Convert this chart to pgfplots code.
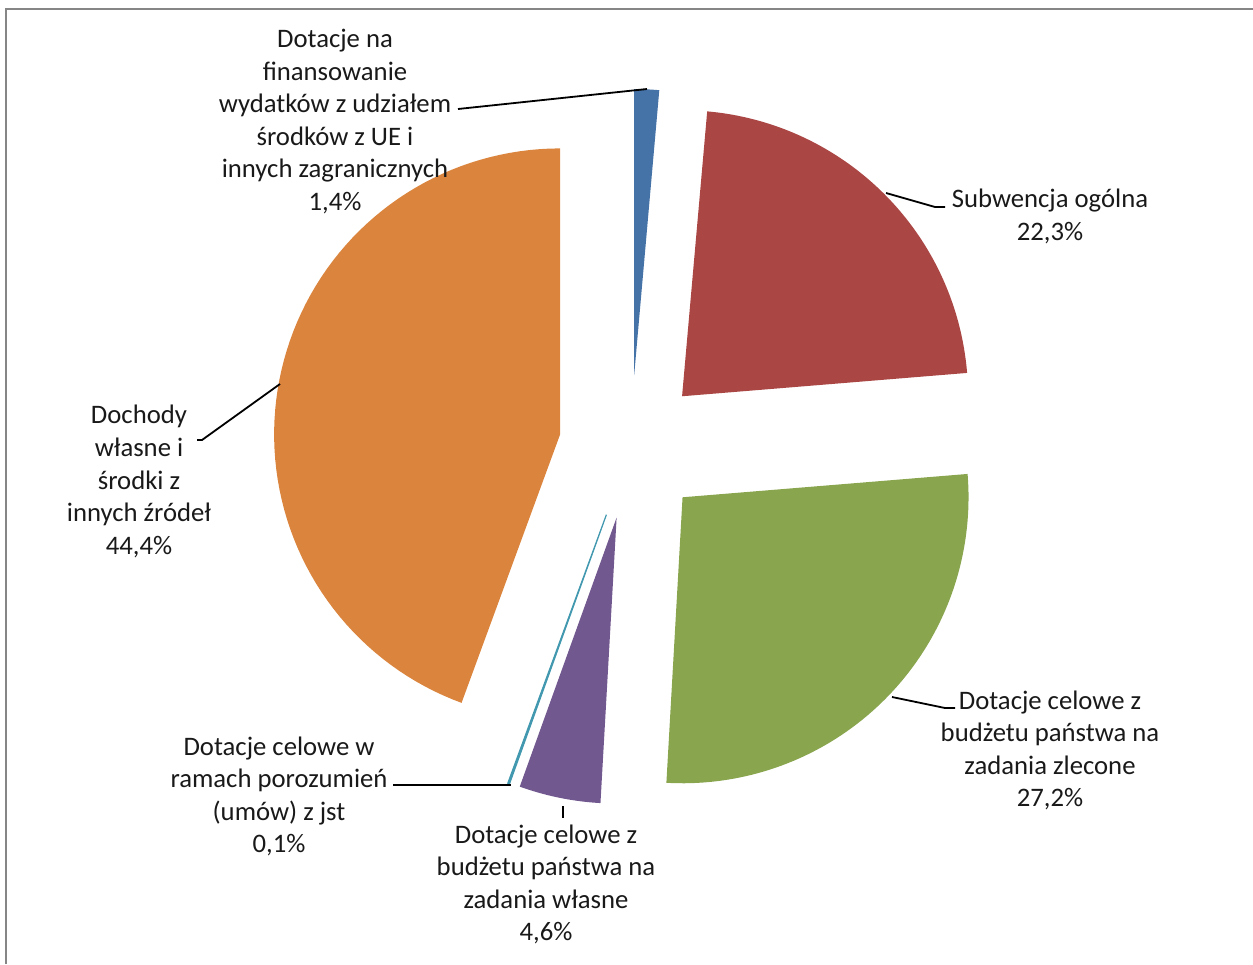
\documentclass[border=0pt]{standalone}
\usepackage{pgfplots}
\pgfplotsset{compat=1.18}
\usepackage{fontspec}
\setmainfont{Carlito}

\definecolor{cBlue}{HTML}{4572A7}
\definecolor{cRed}{HTML}{AA4643}
\definecolor{cGreen}{HTML}{89A54E}
\definecolor{cPurple}{HTML}{71588F}
\definecolor{cTeal}{HTML}{4198AF}
\definecolor{cOrange}{HTML}{DB843D}
\definecolor{cFrame}{HTML}{868686}

% shares in percent, clockwise from 12 o'clock
\def\vBlue{1.4}
\def\vRed{22.3}
\def\vGreen{27.2}
\def\vPurple{4.6}
\def\vTeal{0.1}
\def\vOrange{44.4}

% pie centre, radius and explosion in picture pixels
\def\cx{631}
\def\cy{447}
\def\rad{286}
\def\expl{72}

% #1 cumulative start (%), #2 share (%), #3 colour, #4 extra options
\newcommand\slice[4]{%
  \pgfmathsetmacro\sa{3.6*#1}%
  \pgfmathsetmacro\sb{3.6*(#1+#2)}%
  \pgfmathsetmacro\sm{(\sa+\sb)/2}%
  \pgfmathsetmacro\ox{\cx+\expl*sin(\sm)}%
  \pgfmathsetmacro\oy{\cy-\expl*cos(\sm)}%
  \edef\tmp{\noexpand\addplot[fill=#3, draw=none, #4, domain=\sa:\sb,
      samples=80, variable=\noexpand\t]
    ({\ox+\rad*sin(\noexpand\t)}, {\oy-\rad*cos(\noexpand\t)})
    -- (axis cs:\ox,\oy) -- cycle;}%
  \tmp}

\begin{document}
\begin{tikzpicture}[
  lbl/.style={font=\fontsize{13.35pt}{16.3pt}\selectfont, align=center, inner sep=0pt, text=black!90},
  ldr/.style={black, line width=0.9pt},
]
\begin{axis}[
  width=626.5pt, height=482pt, scale only axis,
  xmin=0, xmax=1253, ymin=0, ymax=964, y dir=reverse,
  hide axis, clip=false,
]
  \pgfmathsetmacro\cA{0}
  \pgfmathsetmacro\cB{\cA+\vBlue}
  \pgfmathsetmacro\cC{\cB+\vRed}
  \pgfmathsetmacro\cD{\cC+\vGreen}
  \pgfmathsetmacro\cE{\cD+\vPurple}
  \pgfmathsetmacro\cF{\cE+\vTeal}

  \slice{\cA}{\vBlue}{cBlue}{}
  \slice{\cB}{\vRed}{cRed}{}
  \slice{\cC}{\vGreen}{cGreen}{}
  \slice{\cD}{\vPurple}{cPurple}{}
  \slice{\cE}{\vTeal}{cTeal}{draw=cTeal, line width=0.6pt}
  \slice{\cF}{\vOrange}{cOrange}{}

  % frame (top and left edges only)
  \draw[cFrame, line width=1.2pt] (axis cs:6,964) -- (axis cs:6,9) -- (axis cs:1253,9);

  % leader lines
  \draw[ldr] (axis cs:458,109) -- (axis cs:647,89);
  \draw[ldr] (axis cs:886,193) -- (axis cs:935,207) -- (axis cs:945,207);
  \draw[ldr] (axis cs:892,697) -- (axis cs:945,708) -- (axis cs:955,708);
  \draw[ldr] (axis cs:197,440) -- (axis cs:202,440) -- (axis cs:280,384);
  \draw[ldr] (axis cs:393,785) -- (axis cs:511,785);
  \draw[ldr] (axis cs:563,806) -- (axis cs:563,818);

  % data labels
  \node[lbl] at (axis cs:335,121.5) {Dotacje na\\finansowanie\\wydatków z udziałem\\środków z UE i\\innych zagranicznych\\1,4\%};
  \node[lbl] at (axis cs:1050,216.5) {Subwencja ogólna\\22,3\%};
  \node[lbl] at (axis cs:1050,750.5) {Dotacje celowe z\\budżetu państwa na\\zadania zlecone\\27,2\%};
  \node[lbl] at (axis cs:139,481.5) {Dochody\\własne i\\środki z\\innych źródeł\\44,4\%};
  \node[lbl] at (axis cs:279,796.5) {Dotacje celowe w\\ramach porozumień\\(umów) z jst\\0,1\%};
  \node[lbl] at (axis cs:546,884.5) {Dotacje celowe z\\budżetu państwa na\\zadania własne\\4,6\%};
\end{axis}
\pgfresetboundingbox
\path[use as bounding box] (current axis.south west) rectangle (current axis.north east);
\end{tikzpicture}
\end{document}
